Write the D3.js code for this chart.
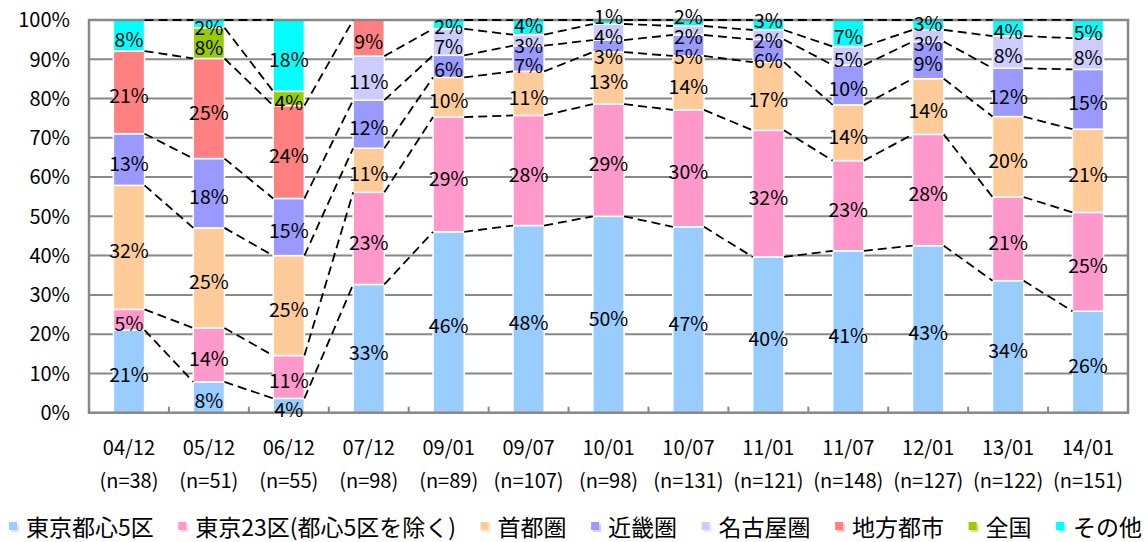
<!DOCTYPE html>
<html><head><meta charset="utf-8">
<script src="https://cdn.jsdelivr.net/npm/d3@7"></script>
<style>
body{margin:0;background:#fff;}
svg{display:block;font-family:"Noto Sans CJK JP","Noto Sans",sans-serif;}
</style>
</head><body>
<svg id="chart" width="1148" height="542"></svg>
<script>
// ---- data (percent of respondents) ----
const categories = ["04/12","05/12","06/12","07/12","09/01","09/07","10/01","10/07","11/01","11/07","12/01","13/01","14/01"];
const sampleSizes = ["(n=38)","(n=51)","(n=55)","(n=98)","(n=89)","(n=107)","(n=98)","(n=131)","(n=121)","(n=148)","(n=127)","(n=122)","(n=151)"];
const seriesNames = ["東京都心5区","東京23区(都心5区を除く)","首都圏","近畿圏","名古屋圏","地方都市","全国","その他"];

const tokyoCentral5 = [21.05, 7.84, 3.64, 32.65, 46.07, 47.66, 50.00, 47.33, 39.67, 41.22, 42.52, 33.61, 25.83];
const tokyo23Other  = [5.26, 13.73, 10.91, 23.47, 29.21, 28.04, 28.57, 29.77, 32.23, 22.97, 28.35, 21.31, 25.17];
const capitalArea   = [31.58, 25.49, 25.45, 11.22, 10.11, 11.21, 13.27, 13.74, 17.36, 14.19, 14.17, 20.49, 21.19];
const kinkiArea     = [13.16, 17.65, 14.55, 12.24, 5.62, 6.54, 3.06, 5.34, 5.79, 10.14, 9.45, 12.30, 15.23];
const nagoyaArea    = [null, null, null, 11.22, 6.74, 2.80, 4.08, 2.29, 2.40, 4.73, 3.00, 8.20, 7.95];
const regionalCity  = [21.05, 25.49, 23.64, 9.18, null, null, null, null, null, null, null, null, null];
const nationwide    = [null, 7.84, 3.64, null, null, null, null, null, null, null, null, null, null];
const otherArea     = [7.89, 1.96, 18.18, null, 2.25, 3.74, 1.02, 1.53, 2.55, 6.76, 2.51, 4.10, 4.64];

const yTicks = [0,10,20,30,40,50,60,70,80,90,100];

// ---- styles ----
const seriesColors = ["#99CCFF","#FF99CC","#FFCC99","#9999FF","#CCCCFF","#FF8080","#99CC00","#00FFFF"];
const seriesData = [tokyoCentral5, tokyo23Other, capitalArea, kinkiArea, nagoyaArea, regionalCity, nationwide, otherArea];
const keys = seriesNames.map((_, i) => "s" + i);

const svg = d3.select("#chart");
const plotLeft = 89, plotRight = 1128, plotTop = 20, plotBottom = 412.7;

const x = d3.scaleBand().domain(categories).range([plotLeft, plotRight]).paddingInner(0.61).paddingOuter(0.305);
const y = d3.scaleLinear().domain([0, 100]).range([plotBottom, plotTop]);

const rows = categories.map((c, i) => {
  const r = {cat: c};
  keys.forEach((k, s) => r[k] = seriesData[s][i]);
  return r;
});
const stacked = d3.stack().keys(keys).value((d, k) => d[k] == null ? 0 : d[k])(rows);

// gridlines
svg.append("g").selectAll("line").data(yTicks.filter(t => t > 0 && t < 100)).join("line")
  .attr("x1", plotLeft).attr("x2", plotRight)
  .attr("y1", d => y(d)).attr("y2", d => y(d))
  .attr("stroke", "#888").attr("stroke-width", 2);

// bars
stacked.forEach((layer, s) => {
  svg.append("g").selectAll("rect")
    .data(layer.filter((d, i) => seriesData[s][i] != null))
    .join("rect")
    .attr("x", d => x(d.data.cat))
    .attr("width", x.bandwidth())
    .attr("y", d => y(d[1]))
    .attr("height", d => y(d[0]) - y(d[1]))
    .attr("fill", seriesColors[s])
    .attr("stroke", "#fff").attr("stroke-width", 1.5);
});

// plot border
svg.append("rect").attr("x", plotLeft).attr("y", plotTop)
  .attr("width", plotRight - plotLeft).attr("height", plotBottom - plotTop)
  .attr("fill", "none").attr("stroke", "#888").attr("stroke-width", 2.5);

// bottom category ticks (inward)
const step = x.step();
svg.append("g").selectAll("line").data(categories.slice(1)).join("line")
  .attr("x1", d => x(d) - (step - x.bandwidth()) / 2)
  .attr("x2", d => x(d) - (step - x.bandwidth()) / 2)
  .attr("y1", plotBottom).attr("y2", plotBottom - 6)
  .attr("stroke", "#888").attr("stroke-width", 2);

// series lines
const lineG = svg.append("g");
stacked.forEach((layer, s) => {
  for (let i = 0; i < categories.length - 1; i++) {
    if (seriesData[s][i] == null || seriesData[s][i + 1] == null) continue;
    lineG.append("line")
      .attr("x1", x(categories[i]) + x.bandwidth())
      .attr("y1", y(layer[i][1]))
      .attr("x2", x(categories[i + 1]))
      .attr("y2", y(layer[i + 1][1]))
      .attr("stroke", "#000").attr("stroke-width", 1.8)
      .attr("stroke-dasharray", "9,5");
  }
});

// data labels (centred in segment, small ones spread apart)
const labelG = svg.append("g").attr("font-size", 19.5).attr("fill", "#000").attr("text-anchor", "middle");
const GAP = 20;
categories.forEach((c, i) => {
  const labs = [];
  stacked.forEach((layer, s) => {
    const v = seriesData[s][i];
    if (v == null) return;
    labs.push({v, cy: y((layer[i][0] + layer[i][1]) / 2) + 4});
  });
  labs.sort((a, b) => a.cy - b.cy);
  for (let it = 0; it < 300; it++) {
    let moved = false;
    for (let k = 1; k < labs.length; k++) {
      const d = labs[k].cy - labs[k - 1].cy;
      if (d < GAP - 0.01) {
        const sh = (GAP - d) / 2;
        labs[k - 1].cy -= sh; labs[k].cy += sh; moved = true;
      }
    }
    if (!moved) break;
  }
  labs.forEach(l => {
    labelG.append("text")
      .attr("x", x(c) + x.bandwidth() / 2)
      .attr("y", l.cy + 7.1)
      .text(Math.round(l.v) + "%");
  });
});

// y axis labels
svg.append("g").attr("font-size", 20).attr("text-anchor", "end").selectAll("text")
  .data(yTicks).join("text")
  .attr("x", 70).attr("y", d => y(d) + 7.3)
  .text(d => d + "%");

// x axis labels
const xg = svg.append("g").attr("font-size", 20).attr("text-anchor", "middle");
categories.forEach((c, i) => {
  const cx = x(c) + x.bandwidth() / 2;
  xg.append("text").attr("x", cx).attr("y", 454.5).text(c);
  xg.append("text").attr("x", cx).attr("y", 487.5).text(sampleSizes[i]);
});

// legend
const lg = svg.append("g").attr("font-size", 23);
let lx = 9;
seriesNames.forEach((name, s) => {
  lg.append("rect").attr("x", lx + 2).attr("y", 524).attr("width", 8).attr("height", 8)
    .attr("fill", seriesColors[s]).attr("opacity", 0.45);
  lg.append("rect").attr("x", lx).attr("y", 522).attr("width", 8).attr("height", 8)
    .attr("fill", seriesColors[s]);
  const t = lg.append("text").attr("x", lx + 17).attr("y", 536).text(name);
  lx = lx + 17 + t.node().getComputedTextLength() + 24.5;
});
</script>
</body></html>
